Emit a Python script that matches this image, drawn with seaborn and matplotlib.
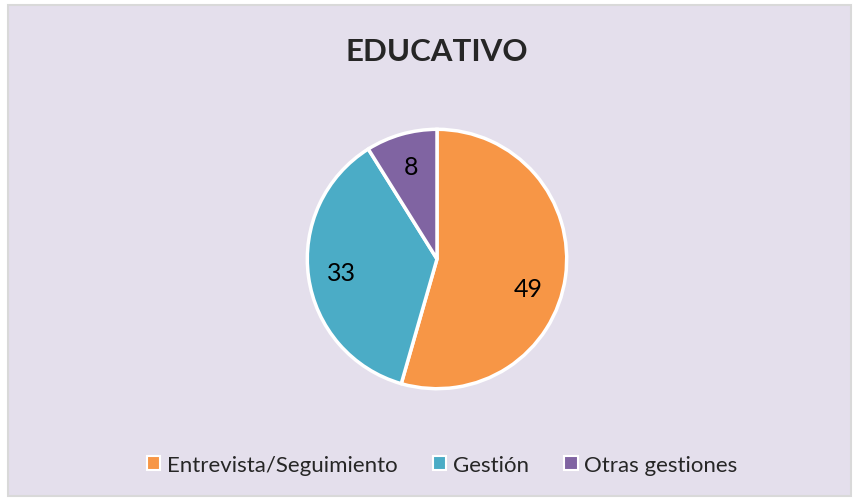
import matplotlib
matplotlib.use("Agg")
import matplotlib.pyplot as plt
from matplotlib.patches import Patch, Rectangle
import numpy as np
import seaborn as sns

# data
categories = ["Entrevista/Seguimiento", "Gestión", "Otras gestiones"]
values = [49, 33, 8]
colors = sns.color_palette(["#F79646", "#4BACC6", "#8064A2"])
title = "EDUCATIVO"

sns.set_style("white")
plt.rcParams["font.family"] = ["Lato", "DejaVu Sans"]

bg = "#E4DFEC"
fig = plt.figure(figsize=(8.56, 5.02), dpi=100, facecolor="white")

# chart area with light grey border
fig.patches.append(Rectangle((8 / 856, 5 / 502), 843 / 856, 491 / 502,
                             transform=fig.transFigure, facecolor=bg,
                             edgecolor="#D9D9D9", linewidth=1.5, zorder=-10))

ax = fig.add_axes([306 / 856, 111 / 502, 262 / 856, 262 / 502])
ax.set_facecolor("none")
wedges, texts, autotexts = ax.pie(
    values, colors=colors, startangle=90, counterclock=False,
    autopct=lambda p: f"{p * sum(values) / 100:.0f}", pctdistance=0.74,
    wedgeprops=dict(edgecolor="white", linewidth=2.5),
    textprops=dict(fontsize=18, color="black"))
ax.set_xlim(-1.01, 1.01)
ax.set_ylim(-1.01, 1.01)
ax.set_aspect("equal")
ax.axis("off")

# Excel nudges the big slice label a bit lower
w = wedges[0]
ang = np.deg2rad((w.theta1 + w.theta2) / 2 - 10)
autotexts[0].set_position((0.74 * np.cos(ang), 0.74 * np.sin(ang)))

fig.text(437 / 856, 1 - 52 / 502, title, ha="center", va="center",
         fontsize=22.5, fontweight="bold")

handles = [Patch(facecolor=c, edgecolor="white", linewidth=1.5) for c in colors]
fig.legend(handles, categories, loc="center", bbox_to_anchor=(442 / 856, 1 - 466 / 502),
           ncol=3, frameon=False, fontsize=16, handlelength=0.6, handleheight=0.6,
           handletextpad=0.3, columnspacing=1.6)

fig.savefig("out.png", dpi=100, facecolor="white")
